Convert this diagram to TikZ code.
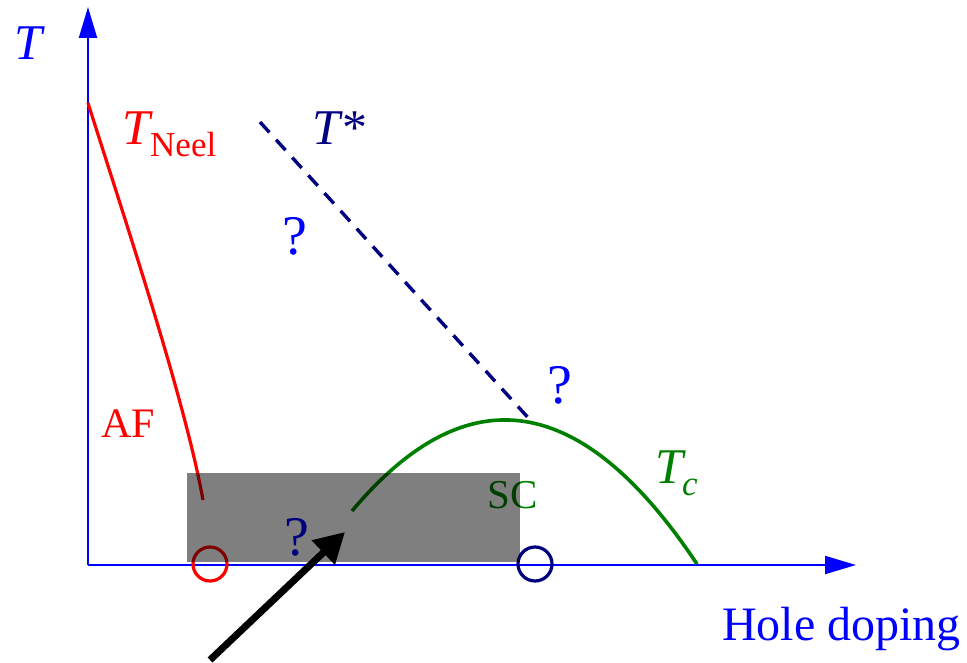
\documentclass[tikz,border=0pt]{standalone}
\usepackage{fontspec}
\setmainfont{Liberation Serif}
\usetikzlibrary{arrows.meta}
\definecolor{navyc}{HTML}{000080}
\definecolor{greenc}{HTML}{008000}
\newcommand{\fs}[1]{\fontsize{#1}{#1}\selectfont}
\begin{document}
\begin{tikzpicture}[x=1pt,y=-1pt,
  axis/.style={draw=blue,line width=2pt,-{Triangle[length=31pt,width=18pt]}},
  lbl/.style={inner sep=0pt,anchor=base west},
  curve/.style={line width=3.2pt},
  mark circle/.style={circle,draw,line width=3.2pt,minimum size=34pt,inner sep=0pt}]
\useasboundingbox (0,0) rectangle (967,663);
% axes
\coordinate (O) at (88,565);
\coordinate (ytip) at (88,7);
\coordinate (xtip) at (856,565);
\draw[axis] (O) -- (ytip);
\draw[axis] (O) -- (xtip);
\node[lbl,text=blue,font=\fs{50}] (tlab) at (14,60) {\textit{T}};
\node[lbl,text=blue,font=\fs{48}] (hole) at (722,640) {Hole doping};
% Neel curve
\coordinate (n0) at (88,103);
\coordinate (n1) at (203,500);
\draw[curve,red] (n0) .. controls (125,220) and (185,400) .. (n1);
\node[lbl,text=red,font=\fs{50}] (tneel) at (122,145) {\textit{T}};
\node[lbl,text=red,font=\fs{35}] (neel) at (150,157) {Neel};
\node[lbl,text=red,font=\fs{42}] (af) at (101,437) {AF};
% T* line
\coordinate (s0) at (260,122);
\coordinate (s1) at (532,422);
\draw[curve,navyc,line width=3.4pt,dash pattern=on 14pt off 10pt] (s0) -- (s1);
\node[lbl,text=navyc,font=\fs{50}] (tstar) at (312,145) {\textit{T}*};
\node[lbl,text=blue,font=\fs{56}] (q1) at (282,255) {?};
\node[lbl,text=blue,font=\fs{56}] (q2) at (547,403) {?};
\node[lbl,text=blue,font=\fs{56}] (q3) at (284,555) {?};
% Tc curve
\coordinate (c0) at (352,511);
\coordinate (c1) at (697,564);
\draw[curve,greenc,line width=3.6pt] (c0) .. controls (467,374) and (582,391.5) .. (c1);
\node[lbl,text=greenc,font=\fs{50}] (tc) at (655,483) {\textit{T}};
\node[lbl,text=greenc,font=\fs{35}] (tcsub) at (682,495) {\textit{c}};
\node[lbl,text=greenc,font=\fs{41}] (sc) at (487,508) {SC};
% circles
\node[mark circle,draw=red] (ra) at (210,564) {};
\node[mark circle,draw=navyc] (rb) at (535,564) {};
% shaded region
\fill[black,opacity=0.5] (187,473) rectangle (520,562);
% black arrow
\coordinate (a0) at (210,660);
\coordinate (a1) at (345,532);
\draw[line width=7pt,-{Triangle[length=30pt,width=32pt]}] (a0) -- (a1);
\end{tikzpicture}
\end{document}
